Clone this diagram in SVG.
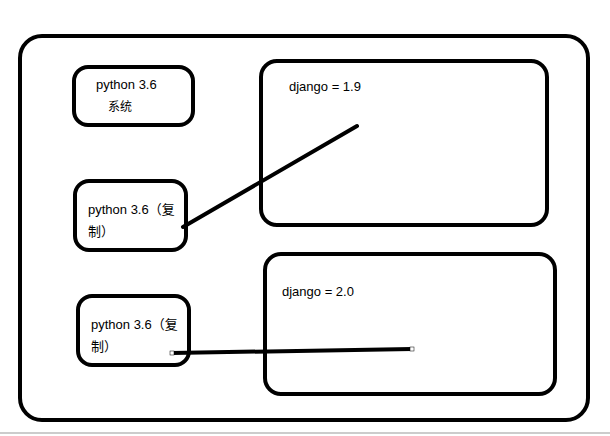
<svg xmlns="http://www.w3.org/2000/svg" width="610" height="436" viewBox="0 0 610 436">
<style>
.b{fill:none;stroke:#000;stroke-width:4}
.t{font-family:"Liberation Sans","Noto Sans CJK SC",sans-serif;font-size:13px;fill:#000}
.s{font-size:12px}
.c{stroke:#000;stroke-width:4;fill:none;stroke-linecap:round}
</style>
<rect width="610" height="436" fill="#fff"/>
<line x1="0" y1="433" x2="610" y2="433" stroke="#ccc" stroke-width="2"/>
<rect class="b" x="20" y="36" width="568" height="384" rx="22"/>
<g id="n1"><rect class="b" x="74" y="67" width="119" height="58" rx="14"/><text class="t" x="96" y="89">python 3.6</text><text class="t s" x="108" y="111">系统</text></g>
<g id="n2"><rect class="b" x="75" y="181" width="111" height="69" rx="14"/><text class="t" x="88" y="214">python 3.6（复</text><text class="t" x="88" y="236">制）</text></g>
<g id="n3"><rect class="b" x="78" y="296" width="111" height="69" rx="14"/><text class="t" x="91" y="329">python 3.6（复</text><text class="t" x="91" y="351">制）</text></g>
<g id="n4"><rect class="b" x="261" y="61" width="286" height="164" rx="16"/><text class="t" x="289" y="91">django = 1.9</text></g>
<g id="n5"><rect class="b" x="265" y="254" width="290" height="140" rx="16"/><text class="t" x="282" y="296">django = 2.0</text></g>
<g id="connectors">
<line class="c" x1="183" y1="227" x2="357" y2="126"/>
<line class="c" x1="172" y1="353" x2="412" y2="349"/>
<rect x="170" y="351" width="4" height="4" fill="#fff" stroke="#000" stroke-width="0.5"/>
<rect x="410" y="347" width="4" height="4" fill="#fff" stroke="#000" stroke-width="0.5"/>
</g>
</svg>
